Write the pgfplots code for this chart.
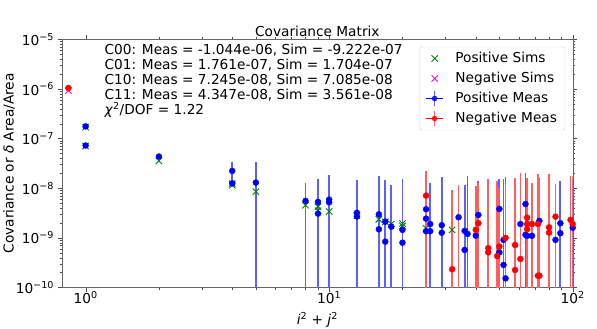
\documentclass[border=0pt]{standalone}
\usepackage{fontspec}
\setmainfont{DejaVu Sans}
\usepackage{pgfplots}
\pgfplotsset{compat=1.18}
\usepackage{pgfplotstable}

\newcommand\mpl{\fontsize{13.7}{15}\selectfont}
\definecolor{mgreen}{RGB}{0,128,0}
\definecolor{mmag}{RGB}{255,0,255}
\definecolor{bbar}{RGB}{95,95,255}
\definecolor{rbar}{RGB}{255,95,95}

% x  y  hi  lo
\pgfplotstableread{
x y hi lo
1 1.761e-7 1.82e-7 1.70e-7
1 7.245e-8 7.5e-8 7.0e-8
2 4.347e-8 4.5e-8 4.2e-8
4 2.23e-8 3.3e-8 1.3e-8
4 1.25e-8 1.3e-8 1.2e-8
5 1.30e-8 3.3e-8 1e-12
8 5.55e-9 1.3e-8 1e-12
9 5.3e-9 1.54e-8 1e-12
9 3.08e-9 1.3e-8 1e-12
10 5.9e-9 1.87e-8 1e-12
10 5.2e-9 1.6e-8 1e-12
13 3.2e-9 1.47e-8 1e-12
13 2.7e-9 1.3e-8 1e-12
16 2.98e-9 1.79e-8 1e-12
16 1.49e-9 1.2e-8 1e-12
17 2.12e-9 1.47e-8 1e-12
17 8.4e-10 1.0e-8 1e-12
18 1.68e-9 1.17e-8 1e-12
20 1.45e-9 1.52e-8 1e-12
20 8.0e-10 1.1e-8 1e-12
25 3.77e-9 1.3e-8 1e-12
25 2.44e-9 1.2e-8 1e-12
25 1.36e-9 1.0e-8 1e-12
26 1.9e-9 1.26e-8 1e-12
26 1.36e-9 1.0e-8 1e-12
29 1.8e-9 1.65e-8 1e-12
29 1.27e-9 1.3e-8 1e-12
34 2.6e-9 1.0e-8 1e-12
36 1.38e-9 1.15e-8 1e-12
36 5.7e-10 8e-9 1e-12
37 1.2e-9 1.8e-8 1e-12
40 1.11e-9 1.0e-8 1e-12
41 2.9e-9 1.4e-8 1e-12
50 3.83e-9 1.5e-8 1e-12
50 5.1e-10 1.2e-8 1e-12
52 9.1e-10 1.55e-8 1e-12
52 2.85e-10 1.2e-8 1e-12
53 1.53e-10 1.7e-8 1e-12
61 1.9e-9 1.0e-8 1e-12
64 4.8e-9 2.0e-8 1e-12
64 1.15e-9 1.2e-8 1e-12
65 1.1e-9 1.0e-8 1e-12
68 1.1e-9 1.0e-8 1e-12
73 2.2e-9 1.6e-8 1e-12
85 9.1e-10 1.0e-8 1e-12
89 1.97e-9 1.4e-8 1e-12
89 1.24e-9 1.0e-8 1e-12
100 1.6e-9 1.5e-8 1e-12
}\posmeas

\pgfplotstableread{
x y hi lo
0.85 1.044e-6 1.08e-6 1.01e-6
25 7.1e-9 2.23e-8 1e-12
32 2.33e-10 9.2e-9 1e-12
34 5e-11 1.17e-8 1e-12
40 1.45e-9 1.1e-8 1e-12
41 1.97e-9 1.3e-8 1e-12
45 6.2e-10 1.5e-8 1e-12
45 5.1e-10 1.2e-8 1e-12
49 4.3e-10 1.4e-8 1e-12
50 6.7e-10 1.0e-8 1e-12
53 1.0e-9 1.2e-8 1e-12
58 7.2e-10 1.6e-8 1e-12
58 2.25e-10 1.2e-8 1e-12
61 3.76e-10 2.0e-8 1e-12
65 2.55e-9 1.6e-8 1e-12
65 1.9e-9 1.3e-8 1e-12
65 1.49e-9 1.0e-8 1e-12
68 1.9e-9 1.3e-8 1e-12
72 1.73e-10 1.9e-8 1e-12
72 1.9e-9 1.7e-8 1e-12
73 1.73e-10 1.5e-8 1e-12
80 1.63e-9 1.9e-8 1e-12
80 1.27e-9 1.2e-8 1e-12
85 2.67e-9 1.2e-8 1e-12
98 2.3e-9 1.8e-8 1e-12
100 1.9e-9 1.8e-8 1e-12
}\negmeas

\pgfplotstableread{
x y
1 1.704e-7
1 7.085e-8
2 3.561e-8
4 1.25e-8
4 1.15e-8
5 8.55e-9
8 4.54e-9
9 4.26e-9
9 3.53e-9
10 3.4e-9
13 2.8e-9
16 2.37e-9
17 2.1e-9
18 1.9e-9
20 1.74e-9
20 1.95e-9
25 1.56e-9
32 1.45e-9
}\possims

\pgfplotstableread{
x y
0.85 9.222e-7
}\negsims

\begin{document}
\begin{tikzpicture}
\begin{axis}[
    scale only axis,
    width=510.7pt,
    height=248.2pt,
    xmode=log, ymode=log,
    xmin=0.8, xmax=100,
    ymin=1e-10, ymax=1e-5,
    axis line style={black!60},
    tick style={black!70},
    tick align=outside,
    major tick length=4.5pt,
    minor tick length=2.5pt,
    xtick={1,10,100},
    xticklabels={10\textsuperscript{0},10\textsuperscript{1},10\textsuperscript{2}},
    ytick={1e-10,1e-9,1e-8,1e-7,1e-6,1e-5},
    yticklabels={10\textsuperscript{−10},10\textsuperscript{−9},10\textsuperscript{−8},10\textsuperscript{−7},10\textsuperscript{−6},10\textsuperscript{−5}},
    ticklabel style={font=\mpl},
    xticklabel style={yshift=4pt},
    xlabel={\textit{i}\textsuperscript{2} + \textit{j}\textsuperscript{2}},
    ylabel={Covariance or \textit{δ} Area/Area},
    label style={font=\mpl},
    xlabel style={yshift=-1pt},
    ylabel shift=-6pt,
    title={Covariance Matrix},
    title style={font=\mpl, yshift=-6.5pt},
    legend cell align=left,
    legend style={font=\mpl, at={(1,1)}, anchor=north east, xshift=-7.5pt, yshift=-7.5pt,
        draw=black!20, rounded corners=2pt, fill=white, fill opacity=0.8, text opacity=1,
        inner xsep=6pt, inner ysep=3pt, row sep=3pt,
        nodes={inner sep=2pt, text height=10pt, text depth=3pt},
        /tikz/every odd column/.append style={column sep=10pt}},
    error bars/error bar style={line width=1.8pt},
    error bars/error mark=none,
]
\addplot[only marks, mark=x, mark size=4.5pt, mgreen, mark options={line width=0.9pt}]
    table[x=x, y=y] {\possims};
\addlegendentry{Positive Sims}
\addplot[only marks, mark=x, mark size=4.5pt, mmag, mark options={line width=0.9pt}]
    table[x=x, y=y] {\negsims};
\addlegendentry{Negative Sims}
\addplot[only marks, mark=*, mark size=3pt, blue,
    legend image code/.code={
        \path (0cm,0cm) -- (0.6cm,0cm);
        \draw[bbar, line width=1.2pt] (0.3cm,-0.25cm) -- (0.3cm,0.25cm);
        \draw[mark=*, mark size=2.5pt, mark options={blue}] plot coordinates {(0.3cm,0cm)};},
    error bars/.cd, y dir=both, y explicit,
    error bar style={bbar}]
    table[x=x, y=y, y error plus expr=\thisrow{hi}-\thisrow{y}, y error minus expr=\thisrow{y}-\thisrow{lo}] {\posmeas};
\addlegendentry{Positive Meas}
\addplot[only marks, mark=*, mark size=3pt, red,
    legend image code/.code={
        \path (0cm,0cm) -- (0.6cm,0cm);
        \draw[rbar, line width=1.2pt] (0.3cm,-0.25cm) -- (0.3cm,0.25cm);
        \draw[mark=*, mark size=2.5pt, mark options={red}] plot coordinates {(0.3cm,0cm)};},
    error bars/.cd, y dir=both, y explicit,
    error bar style={rbar}]
    table[x=x, y=y, y error plus expr=\thisrow{hi}-\thisrow{y}, y error minus expr=\thisrow{y}-\thisrow{lo}] {\negmeas};
\addlegendentry{Negative Meas}
\node[anchor=north west, align=left, inner sep=0pt, font=\mpl] at (rel axis cs:0.083,0.98)
    {C00: Meas = -1.044e-06, Sim = -9.222e-07\\
     C01: Meas = 1.761e-07, Sim = 1.704e-07\\
     C10: Meas = 7.245e-08, Sim = 7.085e-08\\
     C11: Meas = 4.347e-08, Sim = 3.561e-08\\
     \textit{χ}\textsuperscript{2}/DOF = 1.22};
\end{axis}
\pgfresetboundingbox
\path (current axis.south west) ++(-62pt,-41.5pt) rectangle ++(597pt,329pt);
\end{tikzpicture}
\end{document}
